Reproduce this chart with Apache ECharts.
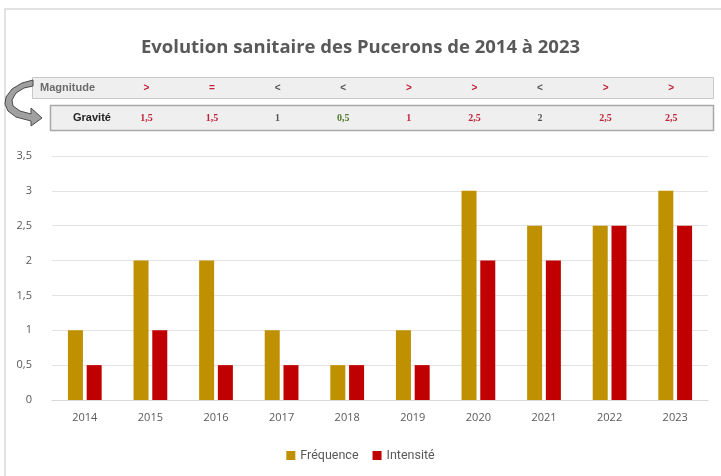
<!DOCTYPE html>
<html><head><meta charset="utf-8">
<script src="https://cdn.jsdelivr.net/npm/echarts@6/dist/echarts.min.js"></script>
<style>html,body{margin:0;padding:0;background:#fff}#c{width:721px;height:476px}</style>
</head><body><div id="c"></div>
<script>
const years = ['2014','2015','2016','2017','2018','2019','2020','2021','2022','2023'];
const frequence = [1, 2, 2, 1, 0.5, 1, 3, 2.5, 2.5, 3];
const intensite = [0.5, 1, 0.5, 0.5, 0.5, 0.5, 2, 2, 2.5, 2.5];
const magnitude = ['>', '=', '<', '<', '>', '>', '<', '>', '>'];
const magnitudeColors = ['#c0243a','#c0243a','#555555','#555555','#c0243a','#c0243a','#555555','#c0243a','#c0243a'];
const gravite = ['1,5', '1,5', '1', '0,5', '1', '2,5', '2', '2,5', '2,5'];
const graviteColors = ['#c0243a','#c0243a','#555555','#4f7a2a','#c0243a','#c0243a','#555555','#c0243a','#c0243a'];
const yTicks = [0, 0.5, 1, 1.5, 2, 2.5, 3, 3.5];

const chart = echarts.init(document.getElementById('c'));
const fmt = v => String(v).replace('.', ',');
chart.setOption({
  animation: false,
  title: {text: 'Evolution sanitaire des Pucerons de 2014 à 2023', left: 'center', top: 33,
    textStyle: {fontFamily: 'Open Sans', fontWeight: 'bold', fontSize: 18.5, color: '#595959'}},
  legend: {bottom: 9, left: 'center', itemWidth: 9, itemHeight: 9, itemGap: 14, icon: 'rect',
    textStyle: {fontFamily: 'Roboto', fontSize: 12.5, color: '#595959'}},
  grid: {left: 52, right: 13, top: 156, bottom: 76},
  xAxis: {type: 'category', data: years,
    axisLine: {lineStyle: {color: '#d9d9d9'}}, axisTick: {show: false},
    axisLabel: {fontFamily: 'Open Sans', fontSize: 11, color: '#595959', margin: 12}},
  yAxis: {type: 'value', min: yTicks[0], max: yTicks[yTicks.length-1], interval: 0.5,
    axisLabel: {formatter: fmt, fontFamily: 'Open Sans', fontSize: 11, color: '#595959', margin: 20},
    splitLine: {lineStyle: {color: '#e3e3e3'}}, axisLine: {show: false}},
  series: [
    {name: 'Fréquence', type: 'bar', data: frequence, barWidth: 15, barGap: '25%', itemStyle: {color: '#bf9000'}},
    {name: 'Intensité', type: 'bar', data: intensite, barWidth: 15, itemStyle: {color: '#c00000'}}
  ]
});

function build() {
  const els = [];
  els.push({type: 'polyline', shape: {points: [[5, 476], [5, 9], [721, 9]]}, style: {stroke: '#d9d9d9', lineWidth: 1.5, fill: null}});
  els.push({type: 'rect', shape: {x: 32.5, y: 77.5, width: 681, height: 21}, style: {fill: '#efefef', stroke: '#c8c8c8', lineWidth: 1}});
  els.push({type: 'rect', shape: {x: 50.5, y: 105.5, width: 663, height: 25}, style: {fill: '#efefef', stroke: '#a8a8a8', lineWidth: 1.5}});
  els.push({type: 'text', x: 40, y: 88, style: {text: 'Magnitude', fontFamily: 'Liberation Sans', fontWeight: 'bold', fontSize: 11, fill: '#6b6b6b', verticalAlign: 'middle'}});
  els.push({type: 'text', x: 73, y: 118, style: {text: 'Gravité', fontFamily: 'Liberation Sans', fontWeight: 'bold', fontSize: 11, fill: '#222', verticalAlign: 'middle'}});
  els.push({type: 'polygon', shape: {points: [[33,80],[22,83],[12,89],[6,97],[5,104],[8,111],[16,117],[31,121],[31,126],[42,118],[31,108],[31,114],[20,111],[13,106],[12,100],[16,93],[24,88],[33,86]]},
    style: {fill: '#a0a0a0', stroke: '#4a4a4a', lineWidth: 1}});
  for (let i = 0; i < magnitude.length; i++) {
    const x = chart.convertToPixel({xAxisIndex: 0}, years[i + 1]) - 4;
    els.push({type: 'text', x: x, y: 88, style: {text: magnitude[i], fontFamily: 'Liberation Sans', fontWeight: 'bold', fontSize: 10, fill: magnitudeColors[i], align: 'center', verticalAlign: 'middle'}});
    els.push({type: 'text', x: x, y: 118, style: {text: gravite[i], fontFamily: 'Liberation Serif', fontWeight: 'bold', fontSize: 10, fill: graviteColors[i], align: 'center', verticalAlign: 'middle'}});
  }
  chart.setOption({graphic: {elements: els}});
}
build();
</script></body></html>
